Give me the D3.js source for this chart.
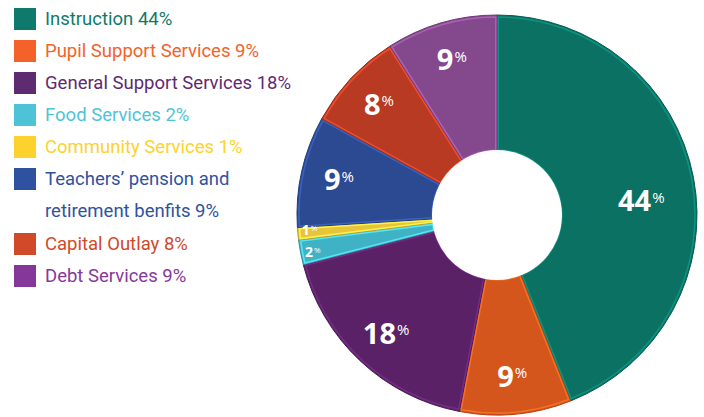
<!DOCTYPE html>
<html lang="en">
<head>
  <meta charset="UTF-8" />
  <title>Spending breakdown</title>
  <style>
    body { margin: 0; background: #fff; }
    svg { display: block; }
    .legend text { font-family: Roboto, sans-serif; font-size: 18.5px; }
    .lbl { font-family: "Open Sans", sans-serif; font-weight: 700; fill: #fff; }
  </style>
  <script src="https://d3js.org/d3.v7.min.js"></script>
</head>
<body>
  <svg id="chart" width="704" height="417"></svg>
  <script>
    // ---- data ----
    const categories = ["Instruction", "Pupil Support Services", "General Support Services",
      "Food Services", "Community Services", "Teachers\u2019 pension and retirement benfits",
      "Capital Outlay", "Debt Services"];
    const values = [44, 9, 18, 2, 1, 9, 8, 9];
    const legendLines = [["Instruction 44%"], ["Pupil Support Services 9%"],
      ["General Support Services 18%"], ["Food Services 2%"], ["Community Services 1%"],
      ["Teachers\u2019 pension and", "retirement benfits 9%"], ["Capital Outlay 8%"], ["Debt Services 9%"]];
    const sliceColors = ["#0b7163", "#d4561c", "#5a2166", "#40b2c6", "#e8c43a", "#2c4a92", "#b83a22", "#84498c"];
    const legendColors = ["#0f7a6b", "#f4622a", "#5e2a70", "#4ec3d8", "#fdd22e", "#2f52a0", "#d04a2a", "#86389a"];

    const svg = d3.select("#chart");
    const cx = 497, cy = 215, R = 200, r0 = 65;

    // ---- donut ----
    const pie = d3.pie().sort(null).value(d => d)(values);
    const arc = d3.arc().innerRadius(r0).outerRadius(R);
    const g = svg.append("g").attr("transform", `translate(${cx},${cy})`);

    g.selectAll("path.slice")
      .data(pie)
      .enter()
      .append("path")
      .attr("class", "slice")
      .attr("d", arc)
      .attr("fill", (d, i) => sliceColors[i])
      .attr("stroke", (d, i) => d3.color(sliceColors[i]).darker(0.6))
      .attr("stroke-width", 1);

    // light bevel inside each slice
    const inner = d3.arc().innerRadius(r0).outerRadius(R - 2).padAngle(0.012);
    g.selectAll("path.bevel")
      .data(pie)
      .enter()
      .append("path")
      .attr("class", "bevel")
      .attr("d", inner)
      .attr("fill", "none")
      .attr("stroke", (d, i) => d3.color(sliceColors[i]).brighter(0.9))
      .attr("stroke-opacity", 0.8)
      .attr("stroke-width", 1.5);

    // hole
    g.append("circle").attr("r", r0).attr("fill", "#fff");

    // ---- slice labels ----
    const isSmall = v => v < 5;
    const labels = g.selectAll("text.lbl")
      .data(pie)
      .enter()
      .append("text")
      .attr("class", "lbl")
      .attr("text-anchor", "middle")
      .attr("transform", (d, i) => {
        const small = isSmall(d.value);
        let a = (d.startAngle + d.endAngle) / 2;
        let rr = small ? 188 : 162;
        if (small) {
          // spread neighbouring thin-slice labels apart
          if (i > 0 && isSmall(values[i - 1])) a += 0.012;
          if (i < values.length - 1 && isSmall(values[i + 1])) a -= 0.012;
        }
        if (d.endAngle - d.startAngle > Math.PI / 2) { a += 0.09; rr = 145; }
        const x = rr * Math.sin(a), y = -rr * Math.cos(a);
        return `translate(${x},${y})`;
      })
      .attr("dy", "0.36em")
      .style("font-size", d => isSmall(d.value) ? "14px" : "29px");

    labels.append("tspan").text(d => d.value);
    labels.append("tspan")
      .text("%")
      .attr("dy", "-0.55em")
      .attr("dx", "1")
      .style("font-size", d => isSmall(d.value) ? "8px" : "15px")
      .style("font-weight", 400);

    // ---- legend ----
    const leg = svg.append("g").attr("class", "legend");
    let y = 19;
    categories.forEach((c, i) => {
      const row = leg.append("g").attr("transform", `translate(0,${y})`);
      row.append("rect").attr("x", 14).attr("y", -11).attr("width", 22).attr("height", 22)
        .attr("fill", legendColors[i]);
      legendLines[i].forEach((t, j) => {
        row.append("text").attr("x", 45).attr("y", j * 32).attr("dy", "0.35em")
          .attr("fill", legendColors[i]).text(t);
      });
      y += 32 * legendLines[i].length + (legendLines[i].length > 1 ? 1 : 0);
    });
  </script>
</body>
</html>
